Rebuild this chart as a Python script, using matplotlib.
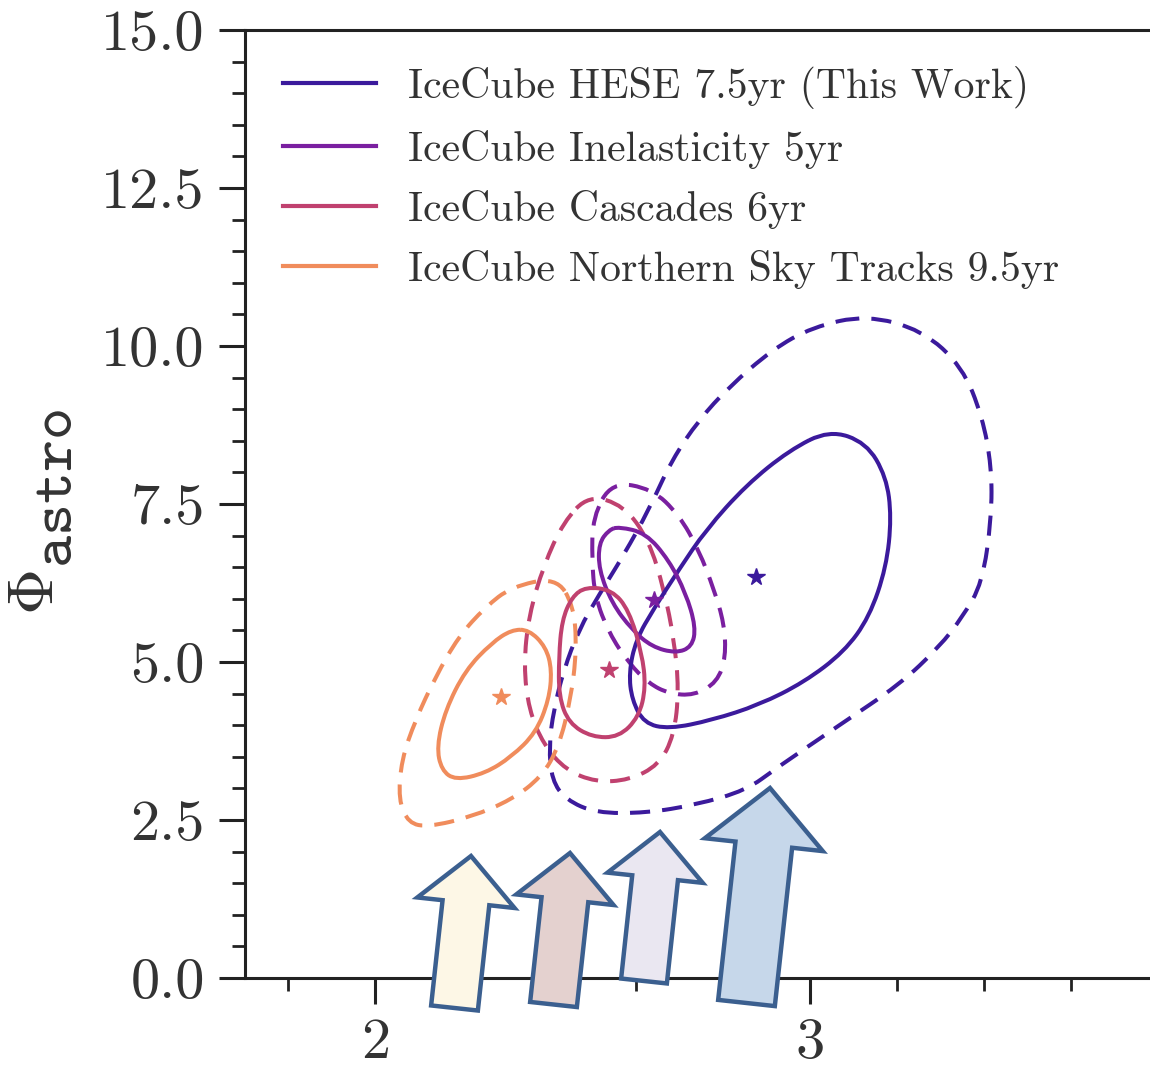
import matplotlib
matplotlib.use("Agg")
import matplotlib.pyplot as plt
import numpy as np
from matplotlib.path import Path
from matplotlib.patches import PathPatch, FancyArrow
from matplotlib.lines import Line2D
from matplotlib.ticker import MultipleLocator, FormatStrFormatter

plt.rcParams['font.family'] = 'cmr10'
plt.rcParams['mathtext.fontset'] = 'cm'
plt.rcParams['axes.formatter.use_mathtext'] = True
plt.rcParams['axes.unicode_minus'] = False


###### DATA
labels = ["IceCube HESE 7.5yr (This Work)",
          "IceCube Inelasticity 5yr",
          "IceCube Cascades 6yr",
          "IceCube Northern Sky Tracks 9.5yr"]
colors = ['#3b1a9c', '#7a1fa0', '#c0416f', '#f08c5c']

# best fit points (gamma, phi_astro)
best_gamma = [2.876, 2.641, 2.537, 2.290]
best_phi = [6.34, 5.98, 4.87, 4.45]

# 68% contours
hese_68_x = [3.044, 3.129, 3.175, 3.187, 3.175, 3.136, 3.078, 2.986, 2.882, 2.774,
             2.675, 2.618, 2.590, 2.583, 2.599, 2.641, 2.698, 2.760, 2.853, 2.952]
hese_68_y = [8.67, 8.47, 7.93, 7.29, 6.50, 5.71, 5.16, 4.68, 4.32, 4.08,
             3.94, 4.03, 4.40, 4.83, 5.35, 5.85, 6.46, 7.09, 7.80, 8.35]
inel_68_x = [2.560, 2.622, 2.675, 2.714, 2.737, 2.728, 2.691, 2.636, 2.590, 2.544,
             2.514, 2.514, 2.537]
inel_68_y = [7.14, 7.04, 6.61, 6.09, 5.55, 5.24, 5.14, 5.24, 5.51, 5.93,
             6.46, 6.88, 7.09]
casc_68_x = [2.484, 2.544, 2.583, 2.613, 2.622, 2.606, 2.560, 2.498, 2.445, 2.422,
             2.422, 2.429, 2.452]
casc_68_y = [6.19, 6.14, 5.82, 5.14, 4.60, 4.13, 3.81, 3.81, 4.03, 4.45,
             5.08, 5.66, 6.03]
nst_68_x = [2.353, 2.392, 2.406, 2.399, 2.369, 2.313, 2.253, 2.184, 2.152, 2.141,
            2.161, 2.207, 2.267, 2.313]
nst_68_y = [5.51, 5.24, 4.87, 4.40, 3.88, 3.50, 3.24, 3.13, 3.29, 3.66,
            4.24, 4.87, 5.30, 5.51]

# 95% contours
hese_95_x = [3.129, 3.258, 3.350, 3.396, 3.417, 3.417, 3.396, 3.350, 3.297, 3.205,
             3.067, 2.922, 2.853, 2.737, 2.622, 2.507, 2.438, 2.406, 2.399, 2.410,
             2.433, 2.468, 2.514, 2.571, 2.629, 2.682, 2.744, 2.813, 2.912, 3.005]
hese_95_y = [10.49, 10.25, 9.67, 8.88, 8.09, 7.29, 6.25, 5.71, 5.24, 4.64,
             4.00, 3.32, 2.97, 2.74, 2.61, 2.61, 2.82, 3.13, 3.66, 4.24,
             4.87, 5.51, 6.06, 6.69, 7.41, 8.20, 8.83, 9.35, 9.94, 10.30]
inel_95_x = [2.544, 2.636, 2.698, 2.744, 2.779, 2.802, 2.806, 2.786, 2.733, 2.675,
             2.629, 2.583, 2.537, 2.505, 2.498, 2.500]
inel_95_y = [7.85, 7.74, 7.33, 6.77, 6.14, 5.61, 5.08, 4.68, 4.47, 4.50,
             4.66, 4.98, 5.46, 6.03, 6.61, 7.30]
casc_95_x = [2.491, 2.571, 2.629, 2.664, 2.687, 2.698, 2.687, 2.652, 2.583, 2.507,
             2.438, 2.387, 2.353, 2.341, 2.353, 2.387, 2.433]
casc_95_y = [7.64, 7.48, 6.93, 6.14, 5.35, 4.56, 3.84, 3.37, 3.13, 3.10,
             3.29, 3.69, 4.24, 4.95, 5.74, 6.53, 7.22]
nst_95_x = [2.415, 2.313, 2.253, 2.191, 2.138, 2.092, 2.060, 2.053, 2.076, 2.122,
            2.221, 2.313, 2.382, 2.422, 2.449, 2.463, 2.456]
nst_95_y = [6.34, 6.19, 5.87, 5.40, 4.76, 4.08, 3.45, 2.82, 2.45, 2.39,
            2.55, 2.82, 3.18, 3.66, 4.40, 5.19, 5.90]

contours_68 = [(hese_68_x, hese_68_y), (inel_68_x, inel_68_y),
               (casc_68_x, casc_68_y), (nst_68_x, nst_68_y)]
contours_95 = [(hese_95_x, hese_95_y), (inel_95_x, inel_95_y),
               (casc_95_x, casc_95_y), (nst_95_x, nst_95_y)]

# block arrows under the contours: tail (x, y), tip (x, y) in inches
arrow_tails = [(4.545, 0.60), (5.535, 0.635), (6.44, 0.87), (7.465, 0.65)]
arrow_tips = [(4.71, 2.12), (5.70, 2.15), (6.60, 2.36), (7.70, 2.80)]
arrow_widths = [0.47, 0.47, 0.46, 0.57]
arrow_fills = ['#fdf7e6', '#e4d1cf', '#eae7f1', '#c6d7ea']


###### FUNCTIONS
def smooth_closed_path(xs, ys):
    """Closed quadratic bezier path that uses the given points as control points."""
    pts = np.column_stack([xs, ys])
    mids = (pts + np.roll(pts, -1, axis=0)) / 2
    verts = [mids[-1]]
    codes = [Path.MOVETO]
    for p, m in zip(pts, mids):
        verts += [p, m]
        codes += [Path.CURVE3, Path.CURVE3]
    return Path(verts, codes)


###### PLOT
fig = plt.figure(figsize=(11.5, 10.68), dpi=100)
ax = fig.add_axes([0.2130, 0.0843, 0.794, 0.8876])

dash = (0, (5, 3))
for (cx, cy), col in zip(contours_95, colors):
    ax.add_patch(PathPatch(smooth_closed_path(cx, cy), fill=False, edgecolor=col,
                           lw=2.9, linestyle=dash))
for (cx, cy), col in zip(contours_68, colors):
    ax.add_patch(PathPatch(smooth_closed_path(cx, cy), fill=False, edgecolor=col, lw=2.9))
for gx, py, col in zip(best_gamma, best_phi, colors):
    ax.plot(gx, py, marker='*', ms=13, color=col, ls='none')

ax.set_xlim(1.7, 3.8)
ax.set_ylim(0, 15)
ax.xaxis.set_major_locator(MultipleLocator(1))
ax.xaxis.set_minor_locator(MultipleLocator(0.2))
ax.yaxis.set_major_locator(MultipleLocator(2.5))
ax.yaxis.set_minor_locator(MultipleLocator(0.5))
ax.xaxis.set_major_formatter(FormatStrFormatter('%d'))
ax.yaxis.set_major_formatter(FormatStrFormatter('%.1f'))
ax.tick_params(which='major', direction='out', length=19, width=2.2, pad=10,
               labelsize=42, colors='#222222', labelcolor='#333333')
ax.tick_params(which='minor', direction='out', length=9.5, width=2.0, colors='#222222')
for s in ['left', 'bottom', 'top', 'right']:
    ax.spines[s].set_linewidth(2.2)
    ax.spines[s].set_color('#222222')

handles = [Line2D([], [], color=c, lw=3) for c in colors]
ax.legend(handles, labels, loc='upper left', bbox_to_anchor=(0.0416, 0.962),
          frameon=False, borderpad=0, borderaxespad=0, handlelength=2.23,
          handletextpad=0.77, labelspacing=0.5, labelcolor='#333333',
          prop={'family': 'cmr10', 'size': 30})

# y axis label: Phi with a lowered typewriter "astro"
fig.text(0.0322, 0.4448, r'$\Phi$', rotation=90, ha='center', va='center',
         fontsize=46, color='#333333')
fig.text(0.049, 0.5426, r'$\mathtt{astro}$', rotation=90, ha='center', va='center',
         fontsize=44, color='#333333')

for (tx, ty), (hx, hy), w, fc in zip(arrow_tails, arrow_tips, arrow_widths, arrow_fills):
    fig.add_artist(FancyArrow(tx, ty, hx - tx, hy - ty, width=w, head_width=2.08 * w,
                              head_length=w, length_includes_head=True,
                              transform=fig.dpi_scale_trans, facecolor=fc,
                              edgecolor='#3b5f8f', lw=3.2, zorder=10))

fig.savefig('out.png', dpi=100)
